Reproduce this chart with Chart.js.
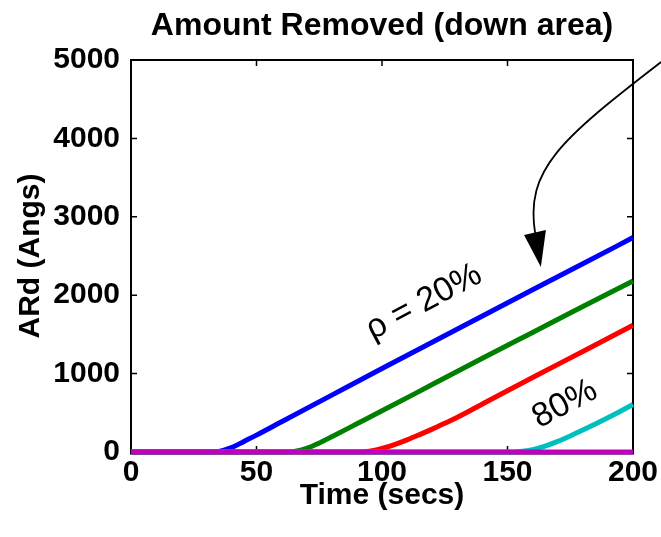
<!DOCTYPE html>
<html>
<head>
<meta charset="utf-8">
<script src="https://cdn.jsdelivr.net/npm/chart.js@4/dist/chart.umd.min.js"></script>
<style>
  html, body { margin: 0; padding: 0; background: #fff; }
  canvas { display: block; }
</style>
</head>
<body>
<canvas id="c" width="661" height="537"></canvas>
<script>
const FONT = '"Liberation Sans", Arial, Helvetica, sans-serif';

// Axis ticks
const xTicks = [0, 50, 100, 150, 200];
const yTicks = [0, 1000, 2000, 3000, 4000, 5000];

// Amount removed (Angstrom) vs time (s), one series per rho
const time20 = [0, 30, 35, 40, 45, 50, 60, 80, 100, 120, 140, 160, 180, 200];
const ard20  = [0, 0, 8, 55, 135, 215, 385, 725, 1065, 1400, 1735, 2070, 2400, 2735];

const time40 = [0, 60, 65, 70, 75, 80, 90, 100, 120, 140, 160, 180, 200];
const ard40  = [0, 0, 8, 45, 115, 195, 360, 525, 860, 1195, 1525, 1855, 2180];

const time60 = [0, 90, 95, 100, 105, 110, 115, 120, 125, 130, 140, 160, 180, 200];
const ard60  = [0, 0, 10, 45, 95, 155, 222, 292, 366, 442, 612, 950, 1283, 1616];

const time80 = [0, 150, 155, 160, 165, 170, 175, 180, 185, 190, 195, 200];
const ard80  = [0, 0, 7, 30, 75, 135, 205, 280, 358, 438, 520, 605];

const time100 = [0, 200];
const ard100  = [0, 0];

// Text labels and the pointer arrow, placed in data units (time, ARd)
const rhoLabel = { text: 'ρ = 20%', t: 116.7, v: 1913 };
const label80  = { text: '80%', t: 172.9, v: 610 };
const arrowPath = {
  start: [211.2, 4974], c1: [170.9, 3980], c2: [157.0, 3597], end: [161.0, 2793]
};
const arrowHead = { left: [156.6, 2768], right: [165.3, 2832], tip: [163.3, 2360] };

function pts(ts, vs) { return ts.map((t, i) => ({ x: t, y: vs[i] })); }

function series(ts, vs, color, order) {
  return {
    data: pts(ts, vs),
    borderColor: color,
    backgroundColor: color,
    borderWidth: 5,
    pointRadius: 0,
    fill: false,
    clip: false,
    cubicInterpolationMode: 'monotone',
    order: order
  };
}

// Black box around the axes with inward tick marks on all four sides
const framePlugin = {
  id: 'frame',
  beforeDatasetsDraw(chart) {
    const { ctx, chartArea: a, scales: { x, y } } = chart;
    ctx.save();
    ctx.strokeStyle = '#000';
    ctx.lineWidth = 1.5;
    const len = 6;
    ctx.beginPath();
    xTicks.forEach(v => {
      const px = x.getPixelForValue(v);
      ctx.moveTo(px, a.bottom); ctx.lineTo(px, a.bottom - len);
      ctx.moveTo(px, a.top); ctx.lineTo(px, a.top + len);
    });
    yTicks.forEach(v => {
      const py = y.getPixelForValue(v);
      ctx.moveTo(a.left, py); ctx.lineTo(a.left + len, py);
      ctx.moveTo(a.right, py); ctx.lineTo(a.right - len, py);
    });
    ctx.stroke();
    ctx.lineWidth = 2;
    ctx.strokeRect(a.left, a.top, a.right - a.left, a.bottom - a.top + 1.5);
    ctx.restore();
  }
};

// Rotated series labels and the curved pointer arrow
const notesPlugin = {
  id: 'notes',
  afterDraw(chart) {
    const { ctx, scales: { x, y } } = chart;
    const P = p => [x.getPixelForValue(p[0]), y.getPixelForValue(p[1])];
    ctx.save();
    ctx.fillStyle = '#000';
    ctx.font = '34px ' + FONT;
    ctx.textAlign = 'center';
    ctx.textBaseline = 'middle';
    [rhoLabel, label80].forEach(l => {
      ctx.save();
      ctx.translate(x.getPixelForValue(l.t), y.getPixelForValue(l.v));
      ctx.rotate(-28 * Math.PI / 180);
      ctx.fillText(l.text, 0, 0);
      ctx.restore();
    });

    const s = P(arrowPath.start), c1 = P(arrowPath.c1), c2 = P(arrowPath.c2), e = P(arrowPath.end);
    ctx.strokeStyle = '#000';
    ctx.lineWidth = 1.8;
    ctx.beginPath();
    ctx.moveTo(s[0], s[1]);
    ctx.bezierCurveTo(c1[0], c1[1], c2[0], c2[1], e[0], e[1]);
    ctx.stroke();

    const hl = P(arrowHead.left), hr = P(arrowHead.right), ht = P(arrowHead.tip);
    ctx.beginPath();
    ctx.moveTo(hl[0], hl[1]);
    ctx.lineTo(hr[0], hr[1]);
    ctx.lineTo(ht[0], ht[1]);
    ctx.closePath();
    ctx.fill();
    ctx.restore();
  }
};

const tickFont = { family: FONT, size: 30, weight: 'bold' };
const plain = v => String(v);

new Chart(document.getElementById('c'), {
  type: 'line',
  data: {
    datasets: [
      series(time100, ard100, '#bf00bf', 0),
      series(time80, ard80, '#00bfbf', 1),
      series(time60, ard60, '#ff0000', 2),
      series(time40, ard40, '#008000', 3),
      series(time20, ard20, '#0000ff', 4)
    ]
  },
  options: {
    responsive: false,
    devicePixelRatio: 1,
    animation: false,
    layout: { padding: { left: 0, right: 28, top: 0, bottom: 0 } },
    plugins: {
      legend: { display: false },
      tooltip: { enabled: false },
      title: {
        display: true,
        text: 'Amount Removed (down area)',
        color: '#000',
        fullSize: false,
        font: { family: FONT, size: 32, weight: 'bold' },
        padding: { top: 7, bottom: 14.6 }
      }
    },
    scales: {
      x: {
        type: 'linear',
        min: 0,
        max: 200,
        afterBuildTicks: s => { s.ticks = xTicks.map(v => ({ value: v })); },
        afterFit: s => { s.height = 85; },
        grid: { display: false },
        border: { display: false },
        ticks: { color: '#000', font: tickFont, padding: -5, maxRotation: 0, autoSkip: false, callback: plain },
        title: {
          display: true,
          text: 'Time (secs)',
          color: '#000',
          font: { family: FONT, size: 30, weight: 'bold' },
          padding: { top: 0, bottom: 23 }
        }
      },
      y: {
        type: 'linear',
        min: 0,
        max: 5000,
        afterBuildTicks: s => { s.ticks = yTicks.map(v => ({ value: v })); },
        afterFit: s => { s.width = 131; },
        grid: { display: false },
        border: { display: false },
        ticks: { color: '#000', font: tickFont, padding: 3, autoSkip: false, callback: plain },
        title: {
          display: true,
          text: 'ARd (Angs)',
          color: '#000',
          font: { family: FONT, size: 30, weight: 'bold' },
          padding: { top: 13, bottom: 0 }
        }
      }
    }
  },
  plugins: [framePlugin, notesPlugin]
});
</script>
</body>
</html>
